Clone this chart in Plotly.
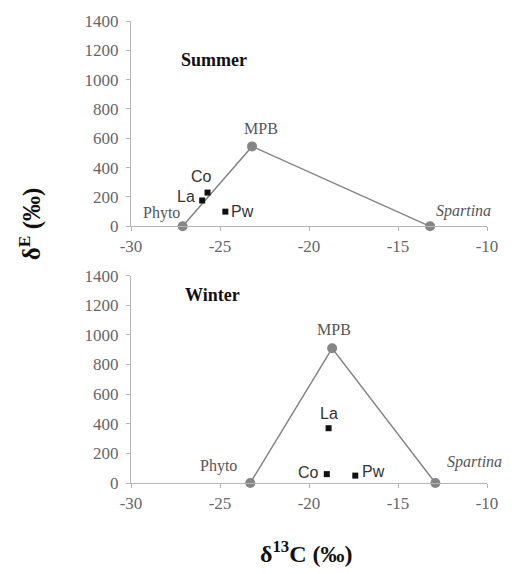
import plotly.graph_objects as go

# ---- data ----
source_names = ["Phyto", "MPB", "Spartina"]
summer_src_x = [-27.1, -23.2, -13.2]
summer_src_y = [0, 545, 0]
winter_src_x = [-23.3, -18.7, -12.9]
winter_src_y = [0, 910, 0]

consumer_names = ["Co", "La", "Pw"]
summer_con_x = [-25.7, -26.0, -24.7]
summer_con_y = [230, 176, 100]
winter_con_x = [-19.0, -18.9, -17.4]
winter_con_y = [60, 370, 50]

x_ticks = [-30, -25, -20, -15, -10]
x_tick_labels = ["-30", "-25", "-20", "-15", "-10"]
y_ticks = [0, 200, 400, 600, 800, 1000, 1200, 1400]
y_tick_labels = ["0", "200", "400", "600", "800", "1000", "1200", "1400"]

SERIF = "Liberation Serif"
SANS = "Liberation Sans"
GRAY = "#858585"
TICKCOL = "#666666"

fig = go.Figure()

panels = [
    ("x", "y", summer_src_x, summer_src_y, summer_con_x, summer_con_y),
    ("x2", "y2", winter_src_x, winter_src_y, winter_con_x, winter_con_y),
]
for xa, ya, sx, sy, cx, cy in panels:
    fig.add_trace(go.Scatter(x=sx, y=sy, xaxis=xa, yaxis=ya, mode="lines+markers",
                             line=dict(color=GRAY, width=1.5),
                             marker=dict(symbol="circle", size=10, color=GRAY),
                             cliponaxis=False, showlegend=False, hoverinfo="skip"))
    fig.add_trace(go.Scatter(x=cx, y=cy, xaxis=xa, yaxis=ya, mode="markers",
                             marker=dict(symbol="square", size=6, color="#111111"),
                             cliponaxis=False, showlegend=False, hoverinfo="skip"))

annotations = []

def lab(text, x, y, xref, yref, xanchor, xshift, yshift, font):
    annotations.append(dict(text=text, x=x, y=y, xref=xref, yref=yref, showarrow=False,
                            xanchor=xanchor, yanchor="middle", xshift=xshift, yshift=yshift,
                            font=font))

src_font = dict(family=SERIF, size=16, color="#555555")
spart_font = dict(family=SERIF, size=16, color="#555555")
con_font = dict(family=SANS, size=16, color="#333333")

# summer source labels
lab(source_names[0], summer_src_x[0], summer_src_y[0], "x", "y", "right", -1, 13, src_font)
lab(source_names[1], summer_src_x[1], summer_src_y[1], "x", "y", "center", 9, 18, src_font)
lab("<i>" + source_names[2] + "</i>", summer_src_x[2], summer_src_y[2], "x", "y", "left", 4, 15, spart_font)
# summer consumer labels
lab(consumer_names[0], summer_con_x[0], summer_con_y[0], "x", "y", "center", -6, 16, con_font)
lab(consumer_names[1], summer_con_x[1], summer_con_y[1], "x", "y", "right", -5, 4, con_font)
lab(consumer_names[2], summer_con_x[2], summer_con_y[2], "x", "y", "left", 4, 0, con_font)
# winter source labels
lab(source_names[0], winter_src_x[0], winter_src_y[0], "x2", "y2", "right", -11, 17, src_font)
lab(source_names[1], winter_src_x[1], winter_src_y[1], "x2", "y2", "center", 2, 19, src_font)
lab("<i>" + source_names[2] + "</i>", winter_src_x[2], winter_src_y[2], "x2", "y2", "left", 10, 21, spart_font)
# winter consumer labels
lab(consumer_names[0], winter_con_x[0], winter_con_y[0], "x2", "y2", "right", -6, 2, con_font)
lab(consumer_names[1], winter_con_x[1], winter_con_y[1], "x2", "y2", "center", 0, 15, con_font)
lab(consumer_names[2], winter_con_x[2], winter_con_y[2], "x2", "y2", "left", 5, 4, con_font)

title_font = dict(family=SERIF, size=18, color="#111111")
annotations.append(dict(text="<b>Summer</b>", x=0.233, y=0.808, xref="x domain", yref="y domain",
                        showarrow=False, xanchor="center", yanchor="middle", font=title_font))
annotations.append(dict(text="<b>Winter</b>", x=0.228, y=0.905, xref="x2 domain", yref="y2 domain",
                        showarrow=False, xanchor="center", yanchor="middle", font=title_font))

# axis titles
annotations.append(dict(text="<b>δ<sup>13</sup>C (‰)</b>", x=0.494, y=-0.15, xref="paper", yref="paper",
                        showarrow=False, xanchor="center", yanchor="middle",
                        font=dict(family=SERIF, size=24, color="#111111")))
annotations.append(dict(text="<b>δ<sup>E</sup> (‰)</b>", x=-0.284, y=0.562, xref="paper", yref="paper",
                        showarrow=False, xanchor="center", yanchor="middle", textangle=-90,
                        font=dict(family=SERIF, size=25, color="#111111")))

axis_common = dict(showgrid=False, zeroline=False, showline=True, linecolor="#b5b5b5", linewidth=1.2,
                   ticks="outside", ticklen=4, tickcolor="#b5b5b5",
                   tickfont=dict(family=SERIF, size=17, color=TICKCOL))

fig.update_layout(
    width=521, height=574,
    margin=dict(l=131, r=34, t=15, b=91),
    paper_bgcolor="white", plot_bgcolor="white",
    showlegend=False,
    xaxis=dict(domain=[0, 1], anchor="y", range=[-30, -10], tickvals=x_ticks, ticktext=x_tick_labels, **axis_common),
    yaxis=dict(domain=[0.5556, 1], anchor="x", range=[0, 1400], tickvals=y_ticks, ticktext=y_tick_labels,
               ticklabelstandoff=4, **axis_common),
    xaxis2=dict(domain=[0, 1], anchor="y2", range=[-30, -10], tickvals=x_ticks, ticktext=x_tick_labels, **axis_common),
    yaxis2=dict(domain=[0, 0.4487], anchor="x2", range=[0, 1400], tickvals=y_ticks, ticktext=y_tick_labels,
                ticklabelstandoff=4, **axis_common),
    annotations=annotations,
)

fig.write_html("out.html")
